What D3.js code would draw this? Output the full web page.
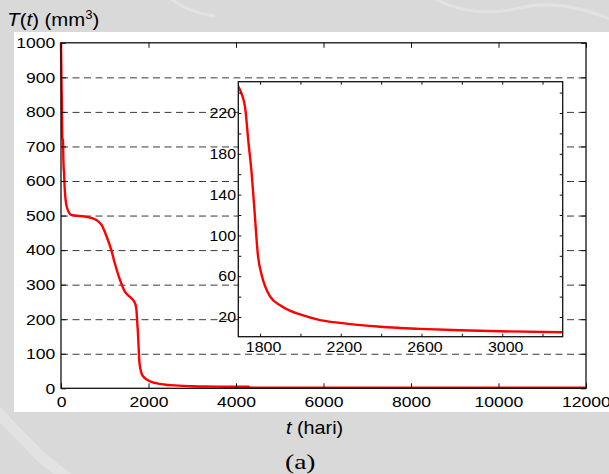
<!DOCTYPE html>
<html>
<head>
<meta charset="utf-8">
<script src="https://cdn.jsdelivr.net/npm/d3@7"></script>
<style>
  html, body { margin: 0; padding: 0; background: #d9d9d9; }
  svg { display: block; }
  .tick text { font-family: "Liberation Sans", Arial, sans-serif; fill: #000; }
</style>
</head>
<body>
<svg id="chart" width="609" height="474"></svg>
<script>
// Tumour volume T(t) in mm^3 against time t in days
const days = [0, 5, 10, 15, 20, 25, 30, 45, 55, 62, 70, 80, 95, 110, 140, 170, 230, 320, 550,
  800, 930, 1040, 1150, 1230, 1350, 1460, 1560, 1640, 1692, 1710, 1726, 1742, 1759, 1772,
  1789, 1808, 1825, 1850, 1899, 1950, 1998, 2097, 2197, 2296, 2395, 2494, 2593, 2792, 2990,
  3300, 3800, 4290, 4310, 6000, 9000, 12000];
const volume = [1000, 950, 900, 860, 820, 760, 725, 718, 660, 635, 625, 590, 560, 540, 522, 512, 502, 500, 497,
  488, 472, 440, 400, 362, 313, 280, 266, 257, 246, 238, 225, 192, 159, 125,
  81, 61, 50, 40, 31.5, 26, 22.5, 17, 14.2, 12.0, 10.4, 9.3, 8.4, 7.0, 6.0,
  5.0, 4.6, 4.3, 2.0, 1.8, 1.6, 1.5];

const mainXTicks = [0, 2000, 4000, 6000, 8000, 10000, 12000];
const mainYTicks = [0, 100, 200, 300, 400, 500, 600, 700, 800, 900, 1000];
const gridYTicks = [100, 200, 300, 400, 500, 600, 700, 800, 900];
const insetXTicks = [1800, 2000, 2200, 2400, 2600, 2800, 3000, 3200];
const insetXLabels = [1800, 2200, 2600, 3000];
const insetYTicks = [20, 40, 60, 80, 100, 120, 140, 160, 180, 200, 220, 240];
const insetYLabels = [20, 60, 100, 140, 180, 220];

const data = days.map((d, i) => ({ t: d, v: volume[i] }));
const fmt = d3.format("d");

const svg = d3.select("#chart");

// faint background shapes on the grey page
const bg = svg.append("g").attr("fill", "none").attr("stroke", "#e2e2e2");
bg.append("path").attr("d", "M-5,410 L42,458 L70,480").attr("stroke-width", 11);
bg.append("path").attr("d", "M168,-4 Q185,12 215,16").attr("stroke-width", 3);
bg.append("path").attr("d", "M430,-4 Q470,20 520,8 Q560,-2 612,20").attr("stroke-width", 3);

// white figure panel
svg.append("rect").attr("x", 14).attr("y", 32).attr("width", 595).attr("height", 380).attr("fill", "#fff");

// main axes
const x = d3.scaleLinear().domain([0, 12000]).range([61, 586]);
const y = d3.scaleLinear().domain([0, 1000]).range([388.3, 42.8]);
const pw = 586 - 61, ph = 388.3 - 42.8;

function stretch(sel, s, dx) {
  sel.selectAll(".tick text").attr("transform", `translate(${dx || 0},0) scale(${s},1)`);
}

// dashed grid
svg.append("g")
  .attr("transform", "translate(61,0)")
  .call(d3.axisLeft(y).tickValues(gridYTicks).tickSize(-pw).tickFormat(""))
  .call(g => g.select(".domain").remove())
  .call(g => g.selectAll(".tick line").attr("stroke", "#3a3a3a").attr("stroke-dasharray", "7,4.5"));

const lineMain = d3.line().x(d => x(d.t)).y(d => y(d.v)).curve(d3.curveMonotoneX);
svg.append("path").datum(data).attr("d", lineMain)
  .attr("fill", "none").attr("stroke", "#ff0000").attr("stroke-width", 2.4).attr("stroke-linejoin", "round");

const fs = "15px";
const gxb = svg.append("g").attr("transform", "translate(0,388.3)")
  .call(d3.axisBottom(x).tickValues(mainXTicks).tickSize(-5).tickSizeOuter(0).tickPadding(8.3).tickFormat(fmt));
gxb.selectAll(".tick text").style("font-size", fs);
stretch(gxb, 1.17);
svg.append("g").attr("transform", "translate(0,42.8)")
  .call(d3.axisTop(x).tickValues(mainXTicks).tickSize(-5).tickSizeOuter(0).tickFormat(""));
const gyl = svg.append("g").attr("transform", "translate(61,0)")
  .call(d3.axisLeft(y).tickValues(mainYTicks).tickSize(-5).tickSizeOuter(0).tickPadding(5).tickFormat(fmt));
gyl.selectAll(".tick text").style("font-size", fs);
stretch(gyl, 1.17);
svg.append("g").attr("transform", "translate(586,0)")
  .call(d3.axisRight(y).tickValues(mainYTicks).tickSize(-5).tickSizeOuter(0).tickFormat(""));
svg.selectAll(".domain").attr("stroke", "none");
svg.selectAll(".tick line").filter(function () { return !this.getAttribute("stroke-dasharray"); }).attr("stroke", "#111");
svg.append("rect").attr("x", 61).attr("y", 42.8).attr("width", pw).attr("height", ph)
  .attr("fill", "none").attr("stroke", "#111").attr("stroke-width", 1.3);

// inset: close-up of the sharp drop
const ix = d3.scaleLinear().domain([1692, 3300]).range([238.3, 562.7]);
const iy = d3.scaleLinear().domain([0.7, 250.7]).range([336.7, 81.7]);
const iw = 562.7 - 238.3, ih = 336.7 - 81.7;
svg.append("rect").attr("x", 238.3).attr("y", 81.7).attr("width", iw).attr("height", ih).attr("fill", "#fff");
svg.append("clipPath").attr("id", "insetClip").append("rect")
  .attr("x", 238.3).attr("y", 81.7).attr("width", iw).attr("height", ih);
const lineInset = d3.line().x(d => ix(d.t)).y(d => iy(d.v)).curve(d3.curveMonotoneX);
svg.append("path").datum(data.filter(d => d.t >= 1640 && d.t <= 3800)).attr("d", lineInset)
  .attr("clip-path", "url(#insetClip)")
  .attr("fill", "none").attr("stroke", "#ff0000").attr("stroke-width", 2.4).attr("stroke-linejoin", "round");

const ifs = "14.5px";
const gib = svg.append("g").attr("transform", "translate(0,336.7)")
  .call(d3.axisBottom(ix).tickValues(insetXTicks).tickSize(-3).tickSizeOuter(0).tickPadding(4.7)
    .tickFormat(d => insetXLabels.includes(d) ? fmt(d) : ""));
gib.selectAll(".tick text").style("font-size", ifs);
stretch(gib, 1.1, 3);
svg.append("g").attr("transform", "translate(0,81.7)")
  .call(d3.axisTop(ix).tickValues(insetXTicks).tickSize(-3).tickSizeOuter(0).tickFormat(""));
const gil = svg.append("g").attr("transform", "translate(238.3,0)")
  .call(d3.axisLeft(iy).tickValues(insetYTicks).tickSize(-3).tickSizeOuter(0).tickPadding(2)
    .tickFormat(d => insetYLabels.includes(d) ? fmt(d) : ""));
gil.selectAll(".tick text").style("font-size", ifs);
stretch(gil, 1.1);
svg.append("g").attr("transform", "translate(562.7,0)")
  .call(d3.axisRight(iy).tickValues(insetYTicks).tickSize(-3).tickSizeOuter(0).tickFormat(""));
svg.selectAll(".domain").attr("stroke", "none");
svg.selectAll(".tick line").filter(function () { return !this.getAttribute("stroke-dasharray"); }).attr("stroke", "#111");
svg.append("rect").attr("x", 238.3).attr("y", 81.7).attr("width", iw).attr("height", ih)
  .attr("fill", "none").attr("stroke", "#111").attr("stroke-width", 1.3);

// axis titles and panel label
const title = svg.append("text")
  .attr("transform", "translate(7.3,26) scale(1.1,1)")
  .style("font-family", "'Liberation Sans', Arial, sans-serif").style("font-size", "18.5px").attr("fill", "#000");
title.append("tspan").attr("font-style", "italic").text("T");
title.append("tspan").text("(");
title.append("tspan").attr("font-style", "italic").text("t");
title.append("tspan").text(") (mm");
title.append("tspan").attr("dy", -7).style("font-size", "12px").text("3");
title.append("tspan").attr("dy", 7).text(")");

const xt = svg.append("text")
  .attr("transform", "translate(286,434) scale(1.1,1)")
  .style("font-family", "'Liberation Sans', Arial, sans-serif").style("font-size", "18px").attr("fill", "#000");
xt.append("tspan").attr("font-style", "italic").text("t");
xt.append("tspan").text(" (hari)");

svg.append("text")
  .attr("transform", "translate(285,469.3) scale(1.25,1)")
  .style("font-family", "'Liberation Serif', 'Times New Roman', serif").style("font-size", "22px").attr("fill", "#000")
  .text("(a)");
</script>
</body>
</html>
